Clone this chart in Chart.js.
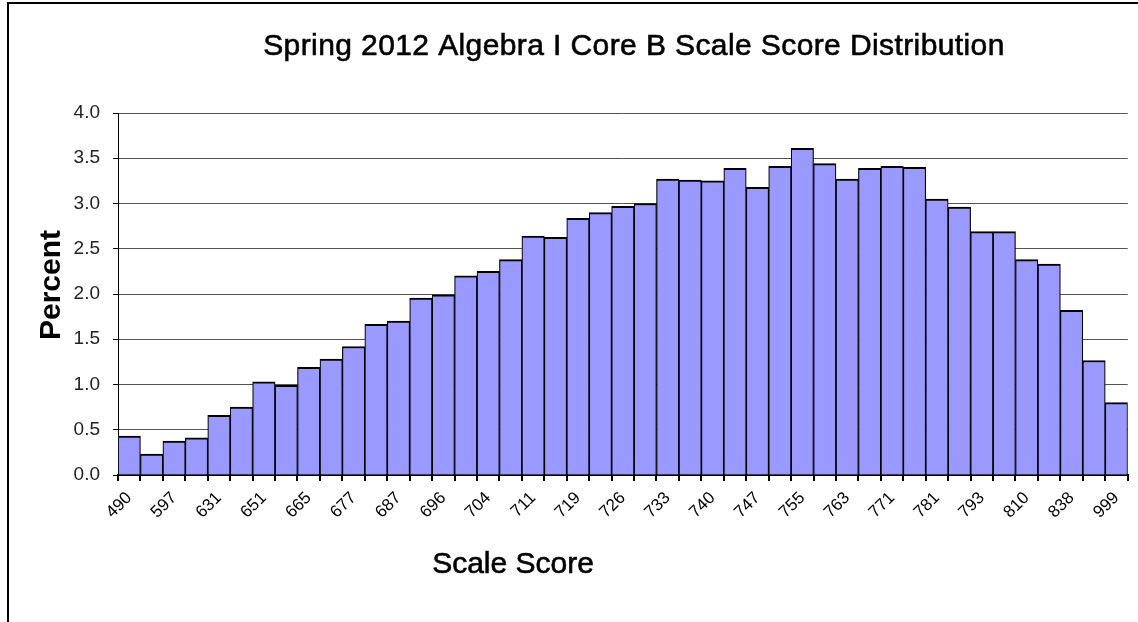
<!DOCTYPE html>
<html>
<head>
<meta charset="utf-8">
<script src="https://cdn.jsdelivr.net/npm/chart.js@4/dist/chart.umd.min.js"></script>
<style>
  html, body { margin: 0; padding: 0; background: #fff; overflow: hidden; }
  #wrap { position: relative; width: 1138px; height: 622px; }
  #frame { position: absolute; left: 7px; top: 2px; width: 1200px; height: 700px; border: 2px solid #000; box-sizing: border-box; }
  canvas { position: absolute; left: 0; top: 0; }
</style>
</head>
<body>
<div id="wrap">
  <div id="frame"></div>
  <canvas id="c" width="1138" height="622"></canvas>
</div>
<script>
// Tick labels shown under every other bar
const tickLabels = ['490','597','631','651','665','677','687','696','704','711','719','726','733','740','747','755','763','771','781','793','810','838','999'];
// Percent of students in each scale-score bin (45 bins)
const percentValues = [0.43,0.23,0.375,0.41,0.66,0.75,1.03,0.99,1.19,1.28,
  1.42,1.665,1.70,1.955,1.99,2.20,2.25,2.38,2.64,2.625,
  2.835,2.90,2.97,3.00,3.27,3.26,3.25,3.39,3.18,3.41,
  3.61,3.44,3.27,3.39,3.41,3.40,3.05,2.96,2.69,2.69,
  2.38,2.33,1.82,1.265,0.80];
const categories = percentValues.map((_, i) => (i % 2 === 0 ? tickLabels[i / 2] : ''));
const titleText = 'Spring 2012 Algebra I Core B Scale Score Distribution';
const xTitle = 'Scale Score';
const yTitle = 'Percent';

const textPlugin = {
  id: 'texts',
  afterDraw(chart) {
    const ctx = chart.ctx;
    ctx.save();
    ctx.fillStyle = '#000';
    ctx.strokeStyle = '#000';
    ctx.textAlign = 'center';
    ctx.textBaseline = 'alphabetic';
    ctx.font = '30px "Liberation Sans", Arial, sans-serif';
    ctx.letterSpacing = '0.4px';
    ctx.lineWidth = 0.6;
    ctx.fillText(titleText, 634, 55);
    ctx.strokeText(titleText, 634, 55);
    ctx.letterSpacing = '0px';
    ctx.font = '30px "Liberation Sans", Arial, sans-serif';
    ctx.fillText(xTitle, 513, 573);
    ctx.strokeText(xTitle, 513, 573);
    ctx.translate(60, 285);
    ctx.rotate(-Math.PI / 2);
    ctx.font = 'bold 30px "Liberation Sans", Arial, sans-serif';
    ctx.fillText(yTitle, 0, 0);
    ctx.restore();
  }
};

new Chart(document.getElementById('c'), {
  type: 'bar',
  data: {
    labels: categories,
    datasets: [{
      data: percentValues,
      backgroundColor: '#9999FF',
      borderColor: '#000',
      borderWidth: { top: 2, left: 1.2, right: 1.2, bottom: 0 },
      borderSkipped: false,
      categoryPercentage: 1,
      barPercentage: 1
    }]
  },
  options: {
    responsive: false,
    animation: false,
    devicePixelRatio: 1,
    layout: { padding: { left: 0, top: 113, right: 10, bottom: 0 } },
    plugins: { legend: { display: false }, title: { display: false }, tooltip: { enabled: false } },
    scales: {
      x: {
        offset: true,
        grid: { display: true, drawOnChartArea: false, offset: true, color: '#000', lineWidth: 2, tickLength: 6 },
        border: { display: true, color: '#000', width: 2 },
        ticks: {
          autoSkip: false, minRotation: 45, maxRotation: 45, padding: 7,
          color: '#000', font: { family: '"Liberation Sans", Arial, sans-serif', size: 17 }
        },
        afterFit(scale) { scale.height = 622 - 475; }
      },
      y: {
        min: 0, max: 4,
        grid: { color: '#555', lineWidth: 1, tickLength: 5, tickColor: '#000' },
        border: { display: true, color: '#000', width: 1 },
        ticks: {
          stepSize: 0.5, padding: 13,
          color: '#222', font: { family: '"Liberation Sans", Arial, sans-serif', size: 19 },
          callback: v => v.toFixed(1)
        },
        afterFit(scale) { scale.width = 118; }
      }
    }
  },
  plugins: [textPlugin]
});
</script>
</body>
</html>
